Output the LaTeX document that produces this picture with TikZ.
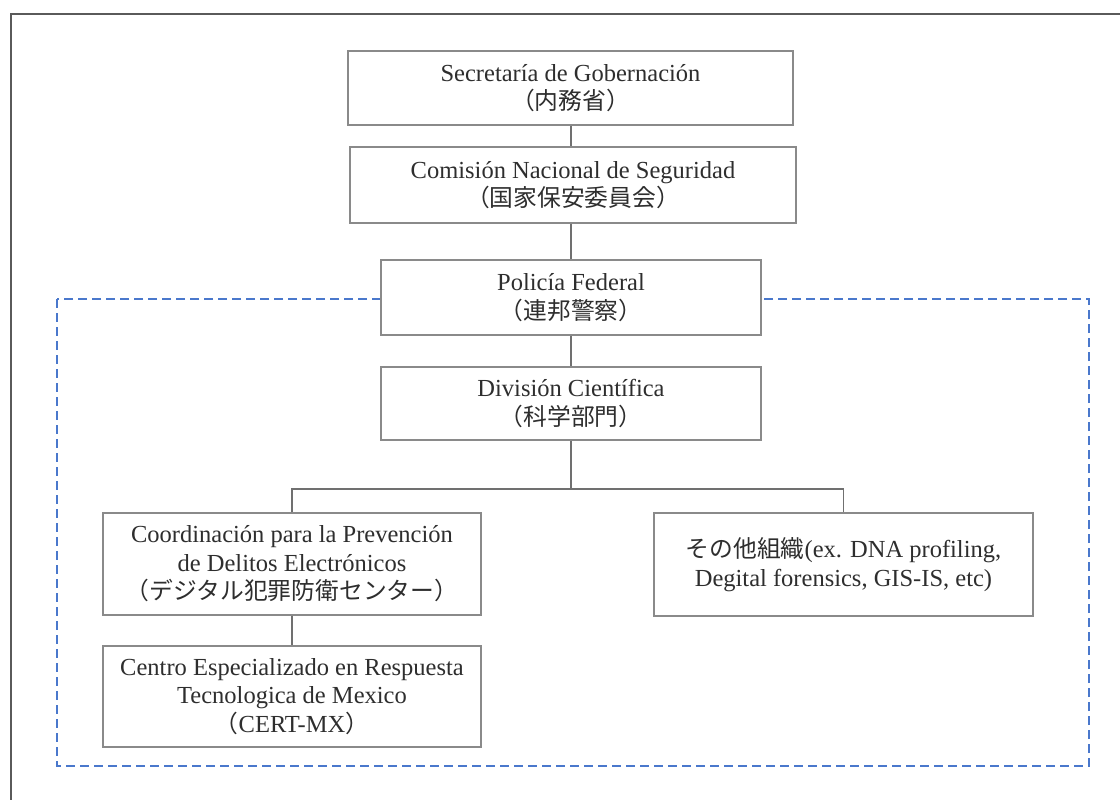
\documentclass[tikz,border=0pt]{standalone}
\usepackage{fontspec}
\setmainfont{Liberation Serif}
\newfontfamily\jp[Scale=0.97]{Noto Sans CJK JP}
\definecolor{boxgray}{HTML}{8A8A8A}
\definecolor{linegray}{HTML}{707070}
\definecolor{framegray}{HTML}{5A5A5A}
\definecolor{txtgray}{HTML}{2E2E2E}
\definecolor{dashblue}{HTML}{4A78CC}
\tikzset{
  orgbox/.style={draw=boxgray, line width=1.3pt, fill=white, align=center, text=txtgray,
    font=\fontsize{24.5}{28.5}\selectfont, inner sep=0pt},
  conn/.style={draw=linegray, line width=1.3pt},
  groupline/.style={draw=dashblue, line width=2.2pt, dash pattern=on 9pt off 5pt},
  frameline/.style={draw=framegray, line width=2.5pt}
}
\begin{document}
\begin{tikzpicture}[x=1pt,y=-1pt]
\useasboundingbox (0,0) rectangle (1120,800);
% outer frame (only top and left visible)
\coordinate (fbl) at (11,800);
\coordinate (ftl) at (11,14);
\coordinate (ftr) at (1120,14);
\draw[frameline] (fbl) -- (ftl) -- (ftr);
% dashed group
\coordinate (g1) at (57,299);
\coordinate (g2) at (1089,766);
\draw[groupline] (g1) rectangle (g2);
% nodes
\node[orgbox, minimum width=445pt, minimum height=74pt] (sec) at (570.5,88)
  {Secretaría de Gobernación\\{\jp （内務省）}};
\node[orgbox, minimum width=446pt, minimum height=76pt] (com) at (573,185)
  {Comisión Nacional de Seguridad\\{\jp （国家保安委員会）}};
\node[orgbox, minimum width=380pt, minimum height=75pt] (pol) at (571,297.5)
  {Policía Federal\\{\jp （連邦警察）}};
\node[orgbox, minimum width=380pt, minimum height=73pt] (div) at (571,403.5)
  {División Científica\\{\jp （科学部門）}};
\node[orgbox, minimum width=378pt, minimum height=102pt] (coord) at (292,564)
  {Coordinación para la Prevención\\de Delitos Electrónicos\\{\jp （デジタル犯罪防衛センター）}};
\node[orgbox, minimum width=378pt, minimum height=101pt] (cert) at (292,696.5)
  {Centro Especializado en Respuesta\\Tecnologica de Mexico\\{\jp （}CERT-MX{\jp ）}};
\node[orgbox, minimum width=379pt, minimum height=103pt] (other) at (843.5,564.5)
  {{\jp その他組織}(ex. DNA profiling,\\Degital forensics, GIS-IS, etc)};
% connectors
\coordinate (br) at (571,489);
\draw[conn] (pol.north |- sec.south) -- (pol.north |- com.north);
\draw[conn] (pol.north |- com.south) -- (pol.north);
\draw[conn] (pol.south) -- (div.north);
\draw[conn] (div.south) -- (br);
\draw[conn] (coord.north) |- (br) -| (other.north);
\draw[conn] (coord.south) -- (cert.north);
\end{tikzpicture}
\end{document}
